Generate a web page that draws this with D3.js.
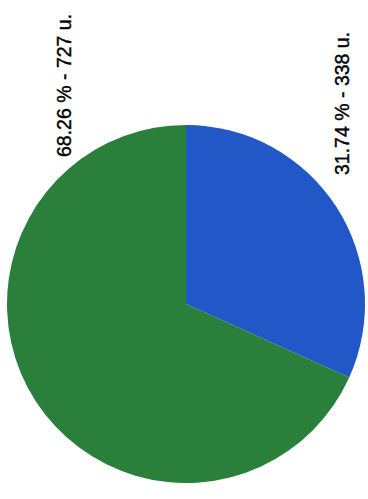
<!DOCTYPE html>
<html><head><meta charset="utf-8">
<script src="https://cdn.jsdelivr.net/npm/d3@7/dist/d3.min.js"></script>
<style>html,body{margin:0;padding:0;background:#fff;}svg{display:block;}</style>
</head><body>
<script>
const categories = ["A", "B"];
const values = [338, 727];
const percents = ["31.74", "68.26"];
const colors = ["#2157c6", "#2a803a"];

const W = 368, H = 499;
const cx = 186, cy = 304, R = 179;
const svg = d3.select("body").append("svg").attr("width", W).attr("height", H);

const pie = d3.pie().sort(null).value(d => d)(values);
const arc = d3.arc().innerRadius(0).outerRadius(R);
const g = svg.append("g").attr("transform", `translate(${cx},${cy})`);
g.selectAll("path").data(pie).join("path")
  .attr("d", arc).attr("fill", (d, i) => colors[i]);

// label positions (baseline x, start y) for rotated labels
const labelPos = [[349, 175], [71, 157]];
svg.selectAll("text.lbl").data(pie).join("text")
  .attr("class", "lbl")
  .attr("transform", (d, i) => `translate(${labelPos[i][0]},${labelPos[i][1]}) rotate(-90)`)
  .attr("font-family", "Liberation Sans, Arial, sans-serif")
  .attr("font-size", 19.5)
  .attr("fill", "#000")
  .attr("stroke", "#000")
  .attr("stroke-width", 0.4)
  .text((d, i) => `${percents[i]} % - ${values[i]} u.`);
</script>
</body></html>
